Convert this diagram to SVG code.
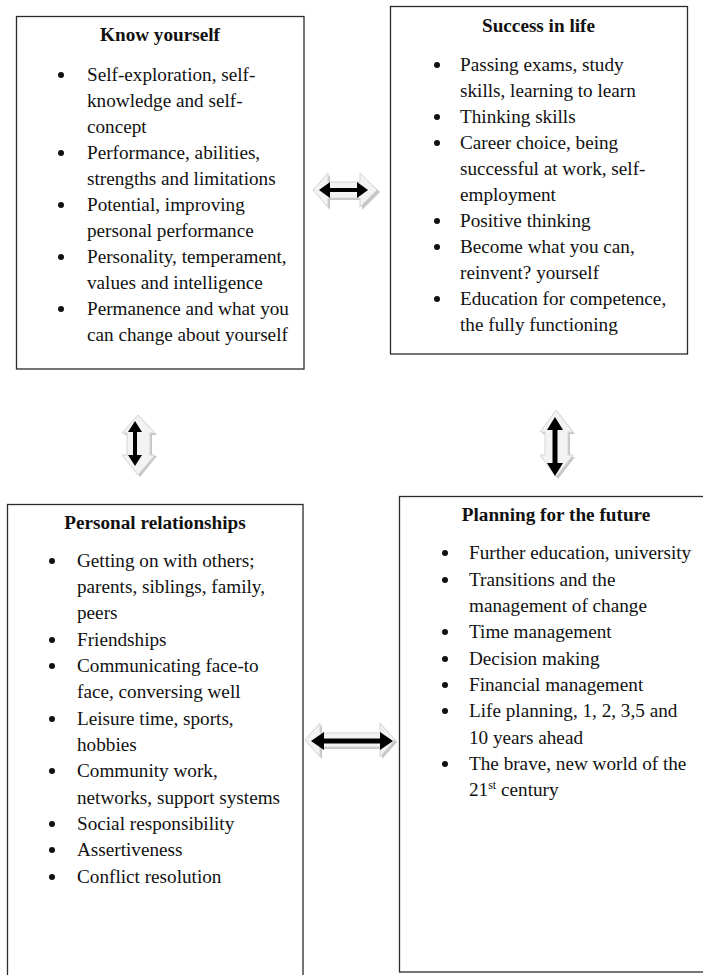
<svg xmlns="http://www.w3.org/2000/svg" width="703" height="975" viewBox="0 0 703 975">
<style>
.box{fill:#fff;stroke:#2a2a2a;stroke-width:1.3}
.t{font-family:"Liberation Serif","Times New Roman",serif;font-size:19.2px;fill:#111}
.h{font-family:"Liberation Serif","Times New Roman",serif;font-size:19.2px;font-weight:bold;fill:#111;text-anchor:middle}
.b{fill:#111}
.sh{fill:#c6c6c6}
.lt{fill:#f3f3f3;stroke:#d4d4d4;stroke-width:1}
.blk{fill:#000}
</style>
<rect width="703" height="975" fill="#fff"/>

<g id="know-yourself">
<rect class="box" x="16.5" y="16.5" width="287.5" height="352.5"/>
<text class="h" x="160" y="41">Know yourself</text>
<g class="b"><circle cx="61" cy="75" r="3"/><circle cx="61" cy="153" r="3"/><circle cx="61" cy="205" r="3"/><circle cx="61" cy="257" r="3"/><circle cx="61" cy="309" r="3"/></g>
<text class="t" x="87" y="81">Self-exploration, self-</text>
<text class="t" x="87" y="107">knowledge and self-</text>
<text class="t" x="87" y="133">concept</text>
<text class="t" x="87" y="159">Performance, abilities,</text>
<text class="t" x="87" y="185">strengths and limitations</text>
<text class="t" x="87" y="211">Potential, improving</text>
<text class="t" x="87" y="237">personal performance</text>
<text class="t" x="87" y="263">Personality, temperament,</text>
<text class="t" x="87" y="289">values and intelligence</text>
<text class="t" x="87" y="315">Permanence and what you</text>
<text class="t" x="87" y="341">can change about yourself</text>
</g>

<g id="success-in-life">
<rect class="box" x="390.5" y="6.5" width="297" height="347.5"/>
<text class="h" x="538.5" y="32">Success in life</text>
<g class="b"><circle cx="437" cy="65" r="3"/><circle cx="437" cy="117" r="3"/><circle cx="437" cy="143" r="3"/><circle cx="437" cy="221" r="3"/><circle cx="437" cy="247" r="3"/><circle cx="437" cy="299" r="3"/></g>
<text class="t" x="460" y="71">Passing exams, study</text>
<text class="t" x="460" y="97">skills, learning to learn</text>
<text class="t" x="460" y="123">Thinking skills</text>
<text class="t" x="460" y="149">Career choice, being</text>
<text class="t" x="460" y="175">successful at work, self-</text>
<text class="t" x="460" y="201">employment</text>
<text class="t" x="460" y="227">Positive thinking</text>
<text class="t" x="460" y="253">Become what you can,</text>
<text class="t" x="460" y="279">reinvent? yourself</text>
<text class="t" x="460" y="305">Education for competence,</text>
<text class="t" x="460" y="331">the fully functioning</text>
</g>

<g id="personal-relationships">
<rect class="box" x="7.5" y="504.5" width="295.5" height="490"/>
<text class="h" x="155" y="529">Personal relationships</text>
<g class="b"><circle cx="52" cy="561" r="3"/><circle cx="52" cy="640" r="3"/><circle cx="52" cy="666" r="3"/><circle cx="52" cy="719" r="3"/><circle cx="52" cy="771" r="3"/><circle cx="52" cy="824" r="3"/><circle cx="52" cy="850" r="3"/><circle cx="52" cy="877" r="3"/></g>
<text class="t" x="77" y="567">Getting on with others;</text>
<text class="t" x="77" y="593">parents, siblings, family,</text>
<text class="t" x="77" y="619">peers</text>
<text class="t" x="77" y="646">Friendships</text>
<text class="t" x="77" y="672">Communicating face-to</text>
<text class="t" x="77" y="698">face, conversing well</text>
<text class="t" x="77" y="725">Leisure time, sports,</text>
<text class="t" x="77" y="751">hobbies</text>
<text class="t" x="77" y="777">Community work,</text>
<text class="t" x="77" y="804">networks, support systems</text>
<text class="t" x="77" y="830">Social responsibility</text>
<text class="t" x="77" y="856">Assertiveness</text>
<text class="t" x="77" y="883">Conflict resolution</text>
</g>

<g id="planning-for-the-future">
<rect class="box" x="399.5" y="496.5" width="320" height="475.5"/>
<text class="h" x="556" y="521">Planning for the future</text>
<g class="b"><circle cx="445" cy="553" r="3"/><circle cx="445" cy="580" r="3"/><circle cx="445" cy="632" r="3"/><circle cx="445" cy="659" r="3"/><circle cx="445" cy="685" r="3"/><circle cx="445" cy="711" r="3"/><circle cx="445" cy="764" r="3"/></g>
<text class="t" x="469" y="559">Further education, university</text>
<text class="t" x="469" y="586">Transitions and the</text>
<text class="t" x="469" y="612">management of change</text>
<text class="t" x="469" y="638">Time management</text>
<text class="t" x="469" y="665">Decision making</text>
<text class="t" x="469" y="691">Financial management</text>
<text class="t" x="469" y="717">Life planning, 1, 2, 3,5 and</text>
<text class="t" x="469" y="744">10 years ahead</text>
<text class="t" x="469" y="770">The brave, new world of the</text>
<text class="t" x="469" y="796">21<tspan font-size="12" dy="-7">st</tspan><tspan dy="7"> century</tspan></text>
</g>

<g id="connectors">
<!-- top horizontal: know yourself <-> success in life -->
<g id="arrow-top">
<path class="sh" d="M315,192 L330,175 L330,184 L362,184 L362,175 L380,192 L362,210 L362,200 L330,200 L330,210 Z"/>
<path class="lt" d="M313,190 L328,173 L328,182 L360,182 L360,173 L377,190 L360,207 L360,198 L328,198 L328,207 Z"/>
<path class="blk" d="M319,190 L330,182 L330,188 L357,188 L357,182 L368,190 L357,198 L357,192 L330,192 L330,198 Z"/>
</g>
<!-- left vertical: know yourself <-> personal relationships -->
<g id="arrow-left">
<path class="sh" d="M140,417 L157,435 L152,435 L152,456 L157,456 L140,477 L124,456 L129,456 L129,435 L124,435 Z"/>
<path class="lt" d="M138,415 L155,433 L150,433 L150,455 L155,455 L138,475 L122,455 L127,455 L127,433 L122,433 Z"/>
<path class="blk" d="M135,421 L142,432 L137,432 L137,455 L142,455 L135,466 L128,455 L133,455 L133,432 L128,432 Z"/>
</g>
<!-- right vertical: success in life <-> planning -->
<g id="arrow-right">
<path class="sh" d="M558,412 L575,434 L570,434 L570,457 L575,457 L558,479 L542,457 L547,457 L547,434 L542,434 Z"/>
<path class="lt" d="M556,410 L573,432 L568,432 L568,455 L573,455 L556,477 L540,455 L545,455 L545,432 L540,432 Z"/>
<path class="blk" d="M555,417 L563,430 L557.5,430 L557.5,463 L563,463 L555,476 L547,463 L552.5,463 L552.5,430 L547,430 Z"/>
</g>
<!-- bottom horizontal: personal relationships <-> planning -->
<g id="arrow-bottom">
<path class="sh" d="M307,742 L322,725 L322,735 L382,735 L382,725 L397,742 L382,759 L382,749 L322,749 L322,759 Z"/>
<path class="lt" d="M305,740 L320,723 L320,733 L380,733 L380,723 L395,740 L380,757 L380,747 L320,747 L320,757 Z"/>
<path class="blk" d="M311,741 L324,732 L324,738.5 L380,738.5 L380,732 L393,741 L380,750 L380,743.5 L324,743.5 L324,750 Z"/>
</g>
</g>
</svg>
